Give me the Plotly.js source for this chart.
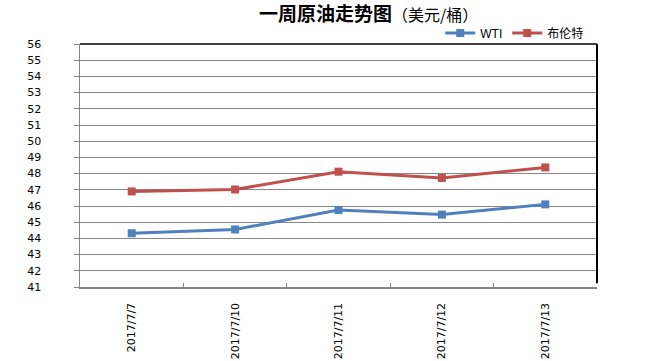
<!DOCTYPE html>
<html><head><meta charset="utf-8">
<script src="https://cdn.plot.ly/plotly-3.0.1.min.js"></script>
<style>body{margin:0;background:#fff}#c{width:650px;height:361px}</style>
</head><body><div id="c"></div>
<script>
const dates = ['2017/7/7','2017/7/10','2017/7/11','2017/7/12','2017/7/13'];
const wti = [44.32, 44.55, 45.75, 45.47, 46.10];
const brent = [46.90, 47.02, 48.12, 47.73, 48.38];
const yTicks = [41,42,43,44,45,46,47,48,49,50,51,52,53,54,55,56];

const font = '"DejaVu Sans", Verdana, "Noto Sans CJK SC", sans-serif';
const traces = [
  {x: dates, y: wti, name: 'WTI', type: 'scatter', mode: 'lines+markers',
   line: {color: '#4F81BD', width: 3}, marker: {symbol: 'square', size: 8, color: '#4F81BD'}},
  {x: dates, y: brent, name: '布伦特', type: 'scatter', mode: 'lines+markers',
   line: {color: '#C0504D', width: 3}, marker: {symbol: 'square', size: 8, color: '#C0504D'}}
];
const layout = {
  width: 650, height: 361,
  margin: {l: 80, r: 53, t: 44, b: 74},
  paper_bgcolor: '#fff', plot_bgcolor: '#fff',
  font: {family: font, size: 11, color: '#000'},
  showlegend: true,
  legend: {orientation: 'h', x: 0.985, xanchor: 'right', y: 1.045, yanchor: 'middle',
           font: {family: 'Liberation Sans, Arial, "Noto Sans CJK SC", sans-serif', size: 12},
           itemwidth: 30, tracegroupgap: 0, bgcolor: 'rgba(0,0,0,0)'},
  title: {text: '<b>一周原油走势图</b><span style="font-size:16px;font-weight:normal">（美元/桶）</span>',
          x: 0.567, xanchor: 'center', y: 0.96, yanchor: 'middle',
          font: {family: '"Noto Sans CJK SC", sans-serif', size: 19, color: '#000'}},
  xaxis: {type: 'category', tickvals: dates, ticktext: dates, tickangle: -90,
          ticks: 'inside', tickson: 'boundaries', ticklen: 4, tickcolor: '#868686',
          showline: true, linecolor: '#868686', linewidth: 1.5, showgrid: false,
          ticklabelstandoff: 10, range: [-0.5, 4.5], fixedrange: true,
          tickfont: {family: font, size: 11}},
  yaxis: {range: [41, 56], tickvals: yTicks, ticktext: yTicks.map(String),
          ticks: 'outside', ticklen: 5, tickcolor: '#868686',
          showline: true, linecolor: '#868686', linewidth: 1.5,
          showgrid: true, gridcolor: '#868686', gridwidth: 1, zeroline: false,
          ticklabelstandoff: 30, fixedrange: true,
          tickfont: {family: font, size: 11}},
  shapes: [
    {type: 'line', xref: 'paper', yref: 'paper', x0: 0, x1: 1, y0: 1, y1: 1, line: {color: '#000', width: 1.5}},
    {type: 'line', xref: 'paper', yref: 'paper', x0: 1, x1: 1, y0: 0.015, y1: 1, line: {color: '#000', width: 2}}
  ]
};
Plotly.newPlot('c', traces, layout, {displayModeBar: false, staticPlot: true});
</script></body></html>
